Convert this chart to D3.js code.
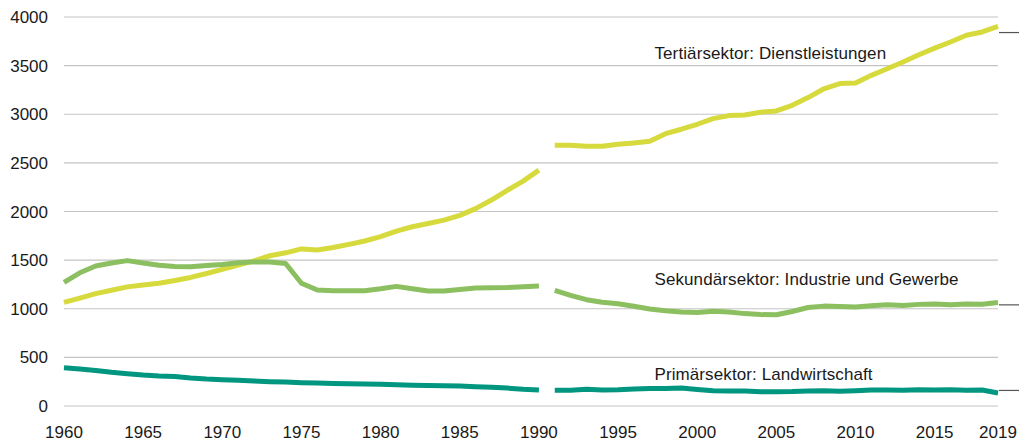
<!DOCTYPE html>
<html>
<head>
<meta charset="utf-8">
<script src="https://cdn.jsdelivr.net/npm/d3@7"></script>
<style>
  html, body { margin: 0; padding: 0; background: #fff; }
  svg text { font-family: "Liberation Sans", Arial, sans-serif; fill: #1a1a1a; }
</style>
</head>
<body>
<svg id="chart" width="1019" height="442"></svg>
<script>
// Years on the x axis, the series break between 1990 and 1991
const years = [
  1960, 1961, 1962, 1963, 1964, 1965, 1966, 1967, 1968, 1969,
  1970, 1971, 1972, 1973, 1974, 1975, 1976, 1977, 1978, 1979,
  1980, 1981, 1982, 1983, 1984, 1985, 1986, 1987, 1988, 1989,
  1990, 1991, 1992, 1993, 1994, 1995, 1996, 1997, 1998, 1999,
  2000, 2001, 2002, 2003, 2004, 2005, 2006, 2007, 2008, 2009,
  2010, 2011, 2012, 2013, 2014, 2015, 2016, 2017, 2018, 2019
];
const breakYear = 1991;

const tertiaer = [
  1065, 1110, 1155, 1190, 1225, 1245, 1262, 1290, 1322, 1362,
  1405, 1448, 1492, 1545, 1575, 1615, 1605, 1630, 1662, 1697,
  1742, 1798, 1843, 1877, 1911, 1960, 2030, 2118, 2218, 2312,
  2425, 2682, 2682, 2672, 2672, 2692, 2705, 2723, 2800, 2846,
  2897, 2955, 2986, 2993, 3021, 3034, 3092, 3171, 3262, 3315,
  3322, 3400, 3468, 3538, 3612, 3680, 3743, 3812, 3846, 3904
];
const sekundaer = [
  1270, 1370, 1440, 1470, 1495, 1470, 1448, 1435, 1432, 1445,
  1455, 1472, 1482, 1480, 1465, 1262, 1192, 1185, 1185, 1186,
  1206, 1230, 1206, 1182, 1182, 1199, 1214, 1215, 1218, 1226,
  1233, 1188, 1137, 1093, 1066, 1052, 1025, 997, 980, 967,
  962, 975, 966, 950, 940, 938, 972, 1013, 1027, 1023,
  1017, 1031, 1040, 1034, 1045, 1050, 1041, 1048, 1047, 1065
];
const primaer = [
  394, 380, 366, 346, 332, 318, 308, 304, 288, 277,
  270, 264, 257, 250, 246, 240, 236, 232, 229, 226,
  223, 218, 214, 211, 208, 205, 198, 193, 184, 172,
  164, 161, 161, 172, 165, 168, 176, 180, 180, 185,
  170, 156, 155, 155, 146, 146, 148, 154, 158, 151,
  158, 164, 164, 161, 168, 164, 168, 161, 164, 134
];

const seriesNames = [
  'Tertiärsektor: Dienstleistungen',
  'Sekundärsektor: Industrie und Gewerbe',
  'Primärsektor: Landwirtschaft'
];
const seriesColors = ['#d6da3d', '#8bbf60', '#00967f'];
const labelYear = 1997.3;
const labelValues = [3566, 1245, 271];

const yTicks = [0, 500, 1000, 1500, 2000, 2500, 3000, 3500, 4000];
const xTicks = [1960, 1965, 1970, 1975, 1980, 1985, 1990, 1995, 2000, 2005, 2010, 2015, 2019];
const markerValues = [3840, 1040, 160];

const svg = d3.select('#chart');
const margin = { top: 17, right: 21, bottom: 36, left: 64 };
const W = 1019, H = 442;

const x = d3.scaleLinear().domain([1960, 2019]).range([margin.left, W - margin.right]);
const y = d3.scaleLinear().domain([0, 4000]).range([H - margin.bottom, margin.top]);

// gridlines
svg.append('g')
  .selectAll('line')
  .data(yTicks)
  .join('line')
  .attr('x1', x(1960)).attr('x2', x(2019))
  .attr('y1', d => y(d)).attr('y2', d => y(d))
  .attr('stroke', '#c4c4c4')
  .attr('stroke-width', 1.2);

// y tick labels
svg.append('g')
  .selectAll('text')
  .data(yTicks)
  .join('text')
  .attr('x', 48)
  .attr('y', d => y(d) + 6)
  .attr('text-anchor', 'end')
  .style('font-size', '17px')
  .text(d => d);

// x tick labels
svg.append('g')
  .selectAll('text')
  .data(xTicks)
  .join('text')
  .attr('x', d => x(d))
  .attr('y', 438)
  .attr('text-anchor', 'middle')
  .style('font-size', '17px')
  .text(d => d);

// small markers at the right edge
svg.append('g')
  .selectAll('line')
  .data(markerValues)
  .join('line')
  .attr('x1', x(2019) + 1).attr('x2', W)
  .attr('y1', d => y(d)).attr('y2', d => y(d))
  .attr('stroke', '#555')
  .attr('stroke-width', 1.2);

// lines, split at the break
const line = d3.line()
  .x(d => x(d.year))
  .y(d => y(d.value));

const allSeries = [tertiaer, sekundaer, primaer];
allSeries.forEach((vals, i) => {
  const pts = years.map((yr, j) => ({ year: yr, value: vals[j] }));
  const parts = [pts.filter(d => d.year < breakYear), pts.filter(d => d.year >= breakYear)];
  svg.append('g')
    .selectAll('path')
    .data(parts)
    .join('path')
    .attr('d', line)
    .attr('fill', 'none')
    .attr('stroke', seriesColors[i])
    .attr('stroke-width', 5)
    .attr('stroke-linejoin', 'round');
});

// series labels
svg.append('g')
  .selectAll('text')
  .data(seriesNames)
  .join('text')
  .attr('x', x(labelYear))
  .attr('y', (d, i) => y(labelValues[i]))
  .style('font-size', '17px')
  .style('letter-spacing', '0.1px')
  .text(d => d);
</script>
</body>
</html>
